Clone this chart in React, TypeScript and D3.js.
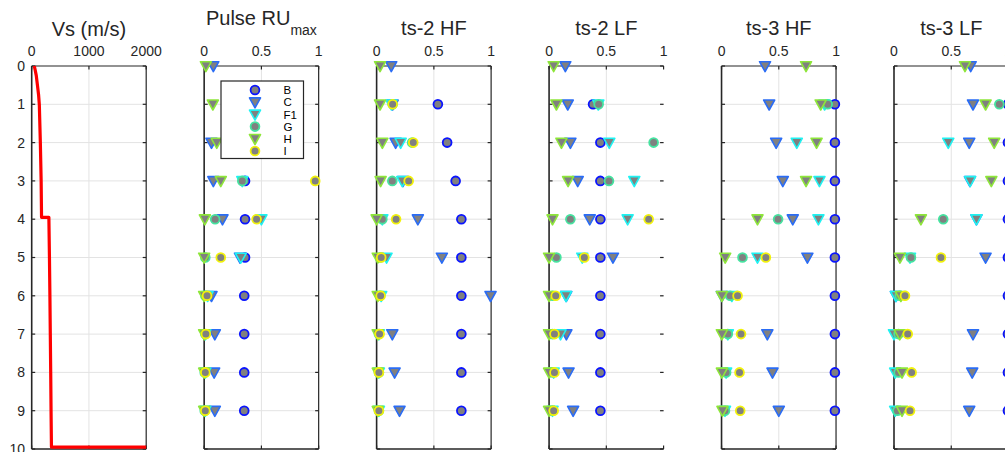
import React from 'react'
import * as d3 from 'd3'

// depth rows (m) and series
const depths = [0, 1, 2, 3, 4, 5, 6, 7, 8, 9]
const depthTicks = [0, 1, 2, 3, 4, 5, 6, 7, 8, 9, 10]
const ruTicks = [0, 0.5, 1]
const vsTicks = [0, 1000, 2000]
const seriesNames = ['B', 'C', 'F1', 'G', 'H', 'I']
const seriesShape = ['o', 'v', 'v', 'o', 'v', 'o']
const seriesEdge = ['#0a14ff', '#2a6cf5', '#1ff2f2', '#45e3a0', '#8ee63a', '#f2f20a']

// Vs profile
const vsDepth = [0, 0.1, 0.25, 0.5, 0.75, 1, 2, 3, 3.95, 3.95, 5, 6, 7, 8, 9, 9.95, 9.95]
const vsSpeed = [45, 60, 80, 100, 120, 133, 151, 165, 172, 300, 310, 318, 325, 332, 338, 345, 2000]

type Row = (number | null)[]

const pulseRU: Record<string, Row> = {
  B: [null, 0.35, 0.35, 0.357, 0.357, 0.357, 0.35, 0.35, 0.35, 0.35],
  C: [0.08, 0.3, 0.064, 0.08, 0.16, 0.313, 0.064, 0.093, 0.087, 0.093],
  F1: [null, 0.4, 0.3, 0.333, 0.5, 0.32, 0.03, 0.01, 0.01, 0.01],
  G: [null, 0.35, 0.35, 0.333, 0.096, 0.01, 0.01, 0.01, 0.005, 0.005],
  H: [0.015, 0.076, 0.11, 0.145, 0.006, 0.0, 0.0, 0.0, 0.0, 0.0],
  I: [null, 0.4, 0.4, 0.97, 0.458, 0.145, 0.025, 0.015, 0.01, 0.01],
}

const ts2HF: Record<string, Row> = {
  B: [null, 0.535, 0.616, 0.69, 0.74, 0.74, 0.74, 0.74, 0.74, 0.74],
  C: [0.128, 0.14, 0.166, 0.23, 0.36, 0.57, 0.995, 0.137, 0.157, 0.2],
  F1: [null, 0.13, 0.21, 0.224, 0.05, 0.087, 0.04, 0.02, 0.02, 0.02],
  G: [null, 0.14, 0.31, 0.137, 0.05, 0.03, 0.03, 0.02, 0.02, 0.02],
  H: [0.03, 0.03, 0.05, 0.035, 0.0, 0.01, 0.01, 0.01, 0.01, 0.01],
  I: [null, 0.14, 0.32, 0.28, 0.17, 0.04, 0.035, 0.026, 0.02, 0.02],
}

const ts2LF: Record<string, Row> = {
  B: [null, 0.384, 0.448, 0.448, 0.448, 0.448, 0.448, 0.448, 0.448, 0.448],
  C: [0.142, 0.163, 0.186, 0.25, 0.355, 0.558, 0.15, 0.151, 0.17, 0.21],
  F1: [null, 0.43, 0.526, 0.744, 0.686, 0.29, 0.148, 0.1, 0.04, 0.03],
  G: [null, 0.433, 0.913, 0.523, 0.186, 0.064, 0.03, 0.03, 0.03, 0.03],
  H: [0.04, 0.064, 0.108, 0.166, 0.03, 0.0, 0.0, 0.0, 0.0, 0.0],
  I: [null, null, null, null, 0.87, 0.308, 0.058, 0.047, 0.047, 0.04],
}

const ts3HF: Record<string, Row> = {
  B: [null, 0.99, 0.99, 0.99, 0.99, 0.99, 0.99, 0.99, 0.99, 0.99],
  C: [0.38, 0.416, 0.477, 0.535, 0.622, 0.75, 0.003, 0.4, 0.445, 0.5],
  F1: [null, 0.9, 0.657, 0.855, 0.846, 0.314, 0.09, 0.055, 0.04, 0.03],
  G: [null, 0.927, null, null, 0.494, 0.183, 0.075, 0.055, 0.04, 0.03],
  H: [0.738, 0.866, 0.83, 0.738, 0.314, 0.032, 0.003, 0.003, 0.003, 0.008],
  I: [null, null, null, null, null, 0.387, 0.14, 0.17, 0.157, 0.163],
}

const ts3LF: Record<string, Row> = {
  B: [null, 0.995, 0.995, 0.995, 0.995, 0.995, 0.995, 0.995, 0.995, 0.995],
  C: [0.67, 0.69, 0.657, 0.663, 0.72, 0.8, 0.017, 0.69, 0.683, 0.657],
  F1: [null, null, 0.474, 0.665, 0.72, 0.14, 0.017, 0.0, 0.01, 0.01],
  G: [null, 0.92, null, null, 0.43, 0.148, 0.05, 0.04, 0.04, 0.03],
  H: [0.62, 0.8, 0.875, 0.85, 0.235, 0.052, 0.06, 0.05, 0.07, 0.07],
  I: [null, null, null, null, null, 0.41, 0.096, 0.12, 0.154, 0.14],
}

const panels = [
  { title: 'Pulse RU', sub: 'max', data: pulseRU, noRight: false },
  { title: 'ts-2 HF', sub: '', data: ts2HF, noRight: false },
  { title: 'ts-2 LF', sub: '', data: ts2LF, noRight: true },
  { title: 'ts-3 HF', sub: '', data: ts3HF, noRight: false },
  { title: 'ts-3 LF', sub: '', data: ts3LF, noRight: false },
]

const font = '"Liberation Sans", Arial, Helvetica, sans-serif'
const axisColor = '#262626'
const gridColor = '#e3e3e3'
const face = '#808080'

const plotTop = 66
const plotBottom = 449
const panelW = 114.5
const panelLeft = (i: number) => 31.7 + i * 172.46
const tri = 'M-5.5,-4.3L5.5,-4.3L0,5.7Z'

function Marker({ shape, x, y, edge }: { shape: string; x: number; y: number; edge: string }) {
  if (shape === 'o')
    return <circle cx={x} cy={y} r={4.4} fill={face} stroke={edge} strokeWidth={1.8} />
  return <path d={tri} transform={`translate(${x},${y})`} fill={face} stroke={edge} strokeWidth={1.6} strokeLinejoin="round" />
}

function Frame({ x, ticks, fmt, noRight }: { x: d3.ScaleLinear<number, number>; ticks: number[]; fmt: (v: number) => string; noRight: boolean }) {
  const y = d3.scaleLinear().domain([0, 10]).range([plotTop, plotBottom])
  const [x0, x1] = x.range()
  return (
    <g>
      {/* grid */}
      {depthTicks.slice(1, -1).map(d => (
        <line key={'gy' + d} x1={x0} x2={x1} y1={y(d)} y2={y(d)} stroke={gridColor} strokeWidth={1} />
      ))}
      {ticks.slice(1, -1).map(t => (
        <line key={'gx' + t} x1={x(t)} x2={x(t)} y1={plotTop} y2={plotBottom} stroke={gridColor} strokeWidth={1} />
      ))}
      {/* ticks */}
      {depthTicks.map(d => (
        <g key={'ty' + d}>
          <line x1={x0} x2={x0 + 3.5} y1={y(d)} y2={y(d)} stroke={axisColor} strokeWidth={1.2} />
          <line x1={x1} x2={x1 - 3.5} y1={y(d)} y2={y(d)} stroke={axisColor} strokeWidth={1.2} />
        </g>
      ))}
      {ticks.map(t => (
        <g key={'tx' + t}>
          <line x1={x(t)} x2={x(t)} y1={plotTop} y2={plotTop + 3.5} stroke={axisColor} strokeWidth={1.2} />
          <line x1={x(t)} x2={x(t)} y1={plotBottom} y2={plotBottom - 3.5} stroke={axisColor} strokeWidth={1.2} />
          <text x={x(t)} y={55.5} textAnchor="middle" fontSize={14} fill={axisColor}>{fmt(t)}</text>
        </g>
      ))}
      {/* box */}
      <line x1={x0} x2={x1} y1={plotTop} y2={plotTop} stroke={axisColor} strokeWidth={1.2} />
      <line x1={x0} x2={x1} y1={plotBottom} y2={plotBottom} stroke={axisColor} strokeWidth={1.6} />
      <line x1={x0} x2={x0} y1={plotTop} y2={plotBottom} stroke={axisColor} strokeWidth={1.6} />
      {!noRight && <line x1={x1} x2={x1} y1={plotTop} y2={plotBottom} stroke={axisColor} strokeWidth={1.2} />}
    </g>
  )
}

export default function App() {
  const y = d3.scaleLinear().domain([0, 10]).range([plotTop, plotBottom])
  const xVs = d3.scaleLinear().domain([0, 2000]).range([panelLeft(0), panelLeft(0) + panelW])
  const vsLine = d3.line<number>().x((_, i) => xVs(vsSpeed[i])).y(d => y(d))

  return (
    <svg width={1005} height={452} style={{ position: 'absolute', left: 0, top: 0, background: '#fff' }} fontFamily={font}>
      {/* Vs panel */}
      <Frame x={xVs} ticks={vsTicks} fmt={v => String(v)} noRight={false} />
      {depthTicks.map(d => (
        <text key={'yl' + d} x={25} y={y(d)} dy="0.35em" textAnchor="end" fontSize={14} fill={axisColor}>{d}</text>
      ))}
      <path d={vsLine(vsDepth) || ''} fill="none" stroke="#ff0000" strokeWidth={3.2} strokeLinejoin="round" />
      <text x={(xVs.range()[0] + xVs.range()[1]) / 2} y={35.5} textAnchor="middle" fontSize={20} fill={axisColor}>Vs (m/s)</text>

      {panels.map((p, i) => {
        const left = panelLeft(i + 1)
        const x = d3.scaleLinear().domain([0, 1]).range([left, left + panelW])
        return (
          <g key={p.title}>
            <Frame x={x} ticks={ruTicks} fmt={v => String(v)} noRight={p.noRight} />
            {seriesNames.map((s, si) => (
              <g key={s}>
                {p.data[s].map((v, di) =>
                  v === null ? null : (
                    <Marker key={di} shape={seriesShape[si]} x={x(v)} y={y(depths[di])} edge={seriesEdge[si]} />
                  )
                )}
              </g>
            ))}
            {p.sub ? (
              <text x={left + panelW / 2} y={24.5} textAnchor="middle" fontSize={20} fill={axisColor}>
                {p.title}
                <tspan fontSize={14} dy={10}>{p.sub}</tspan>
              </text>
            ) : (
              <text x={left + panelW / 2} y={35} textAnchor="middle" fontSize={20} fill={axisColor}>{p.title}</text>
            )}
          </g>
        )
      })}

      {/* legend */}
      <g>
        <rect x={221} y={81} width={82.5} height={77.5} fill="#fff" stroke={axisColor} strokeWidth={1.2} />
        {seriesNames.map((s, si) => (
          <g key={'lg' + s}>
            <Marker shape={seriesShape[si]} x={255} y={90 + si * 12.2} edge={seriesEdge[si]} />
            <text x={283.5} y={90 + si * 12.2} dy="0.36em" fontSize={11.5} fill="#000">{s}</text>
          </g>
        ))}
      </g>
    </svg>
  )
}
